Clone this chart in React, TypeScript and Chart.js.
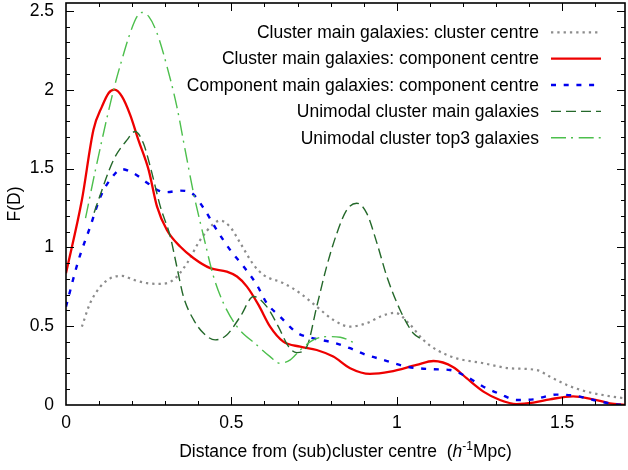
import React, { useEffect, useRef } from 'react';
import { Chart, registerables } from 'chart.js';

Chart.register(...registerables);

const FONT = '"Liberation Sans", Arial, Helvetica, sans-serif';
const FONT_SIZE = 17.5;

// Axis settings
const xMin = 0;
const xMax = 1.69;
const yMin = 0;
const yMax = 2.55;
const xTickValues = [0, 0.5, 1, 1.5];
const yTickValues = [0, 0.5, 1, 1.5, 2, 2.5];
const minorStep = 0.1;

const seriesLabels = [
  'Cluster main galaxies: cluster centre',
  'Cluster main galaxies: component centre',
  'Component main galaxies: component centre',
  'Unimodal cluster main galaxies',
  'Unimodal cluster top3 galaxies',
];

// Cluster main galaxies: cluster centre (grey dotted)
const clusterCentreX = [0.048, 0.073, 0.104, 0.134, 0.169, 0.204, 0.245, 0.285, 0.325, 0.366, 0.406, 0.446, 0.466, 0.496, 0.527, 0.567, 0.597, 0.657, 0.708, 0.758, 0.808, 0.859, 0.909, 0.955, 0.995, 1.04, 1.08, 1.121, 1.181, 1.262, 1.342, 1.423, 1.463, 1.514, 1.574, 1.634, 1.69];
const clusterCentreY = [0.497, 0.646, 0.751, 0.804, 0.819, 0.794, 0.773, 0.768, 0.794, 0.9, 1.048, 1.149, 1.17, 1.13, 1.027, 0.89, 0.825, 0.773, 0.709, 0.624, 0.54, 0.497, 0.519, 0.565, 0.585, 0.51, 0.413, 0.349, 0.296, 0.265, 0.233, 0.222, 0.18, 0.127, 0.085, 0.059, 0.042];

// Cluster main galaxies: component centre (red solid)
const clusterCompX = [0, 0.048, 0.083, 0.109, 0.129, 0.147, 0.169, 0.194, 0.219, 0.25, 0.275, 0.305, 0.345, 0.386, 0.436, 0.486, 0.517, 0.547, 0.582, 0.617, 0.657, 0.708, 0.758, 0.808, 0.859, 0.919, 0.98, 1.06, 1.111, 1.171, 1.211, 1.262, 1.312, 1.362, 1.413, 1.463, 1.533, 1.594, 1.644, 1.69];
const clusterCompY = [0.836, 1.3, 1.746, 1.894, 1.979, 2.0, 1.957, 1.84, 1.68, 1.49, 1.26, 1.11, 1.005, 0.931, 0.868, 0.846, 0.815, 0.751, 0.635, 0.497, 0.402, 0.37, 0.349, 0.307, 0.233, 0.197, 0.211, 0.254, 0.279, 0.24, 0.17, 0.085, 0.032, 0.006, 0.015, 0.036, 0.055, 0.036, 0.011, 0.0];

// Component main galaxies: component centre (blue dashed)
const compCompX = [0, 0.038, 0.073, 0.104, 0.134, 0.169, 0.204, 0.245, 0.275, 0.305, 0.345, 0.38, 0.416, 0.456, 0.496, 0.537, 0.577, 0.607, 0.647, 0.698, 0.748, 0.808, 0.859, 0.909, 0.96, 1.03, 1.111, 1.161, 1.211, 1.262, 1.312, 1.362, 1.413, 1.483, 1.544, 1.594, 1.654, 1.69];
const compCompY = [0.624, 0.92, 1.13, 1.32, 1.43, 1.496, 1.47, 1.41, 1.365, 1.35, 1.36, 1.344, 1.249, 1.11, 0.984, 0.878, 0.762, 0.646, 0.561, 0.459, 0.423, 0.396, 0.36, 0.317, 0.286, 0.243, 0.227, 0.222, 0.18, 0.116, 0.07, 0.032, 0.036, 0.066, 0.057, 0.032, 0.006, 0.0];

// Unimodal cluster main galaxies (dark green dashed)
const uniMainX = [0.085, 0.098, 0.144, 0.184, 0.209, 0.234, 0.255, 0.285, 0.315, 0.335, 0.355, 0.386, 0.416, 0.451, 0.486, 0.527, 0.567, 0.607, 0.642, 0.673, 0.698, 0.728, 0.758, 0.788, 0.819, 0.849, 0.879, 0.909, 0.94, 0.97, 1.01, 1.05, 1.08];
const uniMainY = [1.22, 1.3, 1.556, 1.68, 1.735, 1.66, 1.51, 1.26, 1.07, 0.878, 0.688, 0.54, 0.455, 0.413, 0.444, 0.561, 0.688, 0.624, 0.497, 0.37, 0.332, 0.37, 0.624, 0.878, 1.09, 1.238, 1.28, 1.217, 1.027, 0.815, 0.603, 0.455, 0.413];

// Unimodal cluster top3 galaxies (light green dash-dot)
const uniTop3X = [0.059, 0.089, 0.144, 0.169, 0.194, 0.215, 0.23, 0.25, 0.275, 0.305, 0.335, 0.36, 0.386, 0.416, 0.446, 0.476, 0.517, 0.577, 0.617, 0.647, 0.678, 0.708, 0.748, 0.788, 0.829, 0.874];
const uniTop3Y = [1.185, 1.49, 2.0, 2.19, 2.36, 2.465, 2.49, 2.465, 2.36, 2.15, 1.894, 1.62, 1.34, 1.07, 0.815, 0.646, 0.497, 0.38, 0.307, 0.265, 0.286, 0.349, 0.413, 0.434, 0.43, 0.392];

const seriesX = [clusterCentreX, clusterCompX, compCompX, uniMainX, uniTop3X];
const seriesY = [clusterCentreY, clusterCompY, compCompY, uniMainY, uniTop3Y];
const seriesColors = ['#8c8c8c', '#ee0000', '#0000ee', '#24682a', '#4cbf4c'];
const seriesWidths = [2.2, 2.3, 2.4, 1.4, 1.4];
const seriesDashes = [[2.3, 4], [], [5, 7.7], [10, 5], [15, 5, 2, 5.7]];

const framePlugin = {
  id: 'frameTicks',
  afterDatasetsDraw(chart: any) {
    const { ctx, chartArea } = chart;
    const { left, right, top, bottom } = chartArea;
    const xs = chart.scales.x;
    const ys = chart.scales.y;
    ctx.save();
    ctx.strokeStyle = '#000';
    ctx.lineWidth = 1;
    ctx.setLineDash([]);
    const line = (x1: number, y1: number, x2: number, y2: number) => {
      ctx.beginPath();
      ctx.moveTo(x1, y1);
      ctx.lineTo(x2, y2);
      ctx.stroke();
    };
    const nx = Math.floor(xs.max / minorStep + 1e-6);
    for (let i = 0; i <= nx; i++) {
      const v = i * minorStep;
      const major = i % 5 === 0;
      const len = major ? 8 : 4;
      const px = Math.round(xs.getPixelForValue(v)) + 0.5;
      if (px >= right - 1 || px <= left + 1) continue;
      line(px, bottom, px, bottom - len);
      line(px, top, px, top + len);
    }
    const ny = Math.floor(ys.max / minorStep + 1e-6);
    for (let i = 0; i <= ny; i++) {
      const v = i * minorStep;
      const major = i % 5 === 0;
      const len = major ? 8 : 4;
      const py = Math.round(ys.getPixelForValue(v)) + 0.5;
      if (py >= bottom - 1 || py <= top + 1) continue;
      line(left, py, left + len, py);
      line(right, py, right - len, py);
    }
    ctx.lineWidth = 1.6;
    ctx.strokeRect(left, top, right - left, bottom - top);
    ctx.restore();
  },
};

const legendPlugin = {
  id: 'insideLegend',
  afterDraw(chart: any) {
    const { ctx, chartArea } = chart;
    const textRight = chartArea.right - 86;
    const sampleL = chartArea.right - 74;
    const sampleR = chartArea.right - 24;
    const row0 = chartArea.top + 29.3;
    const rowH = 26.35;
    ctx.save();
    ctx.font = `${FONT_SIZE}px ${FONT}`;
    ctx.textAlign = 'right';
    ctx.textBaseline = 'middle';
    chart.data.datasets.forEach((ds: any, i: number) => {
      const y = row0 + i * rowH;
      ctx.fillStyle = '#000';
      ctx.fillText(ds.label, textRight, y + 1);
      ctx.strokeStyle = ds.borderColor;
      ctx.lineWidth = ds.borderWidth;
      ctx.lineCap = 'butt';
      ctx.setLineDash(ds.borderDash || []);
      ctx.beginPath();
      ctx.moveTo(sampleL, y);
      ctx.lineTo(sampleR, y);
      ctx.stroke();
    });
    ctx.restore();
  },
};

const xTitlePlugin = {
  id: 'xTitle',
  afterDraw(chart: any) {
    const { ctx, chartArea } = chart;
    const xs = chart.scales.x;
    const baseline = xs.bottom - 13;
    const cx = (chartArea.left + chartArea.right) / 2;
    const parts = [
      { t: 'Distance from (sub)cluster centre  (', f: `${FONT_SIZE}px ${FONT}`, dy: 0 },
      { t: 'h', f: `italic ${FONT_SIZE}px ${FONT}`, dy: 0 },
      { t: '-1', f: `12px ${FONT}`, dy: -7 },
      { t: 'Mpc)', f: `${FONT_SIZE}px ${FONT}`, dy: 0 },
    ];
    ctx.save();
    ctx.fillStyle = '#000';
    ctx.textAlign = 'left';
    ctx.textBaseline = 'alphabetic';
    let total = 0;
    const widths = parts.map((p) => {
      ctx.font = p.f;
      const w = ctx.measureText(p.t).width;
      total += w;
      return w;
    });
    let x = cx - total / 2;
    parts.forEach((p, i) => {
      ctx.font = p.f;
      ctx.fillText(p.t, x, baseline + p.dy);
      x += widths[i];
    });
    ctx.restore();
  },
};

export default function App() {
  const canvasRef = useRef<HTMLCanvasElement | null>(null);

  useEffect(() => {
    document.body.style.margin = '0';
    const canvas = canvasRef.current;
    if (!canvas) return;
    Chart.defaults.font.family = FONT;
    Chart.defaults.color = '#000';

    const datasets = seriesLabels.map((label, i) => ({
      label,
      data: seriesX[i].map((x, j) => ({ x, y: seriesY[i][j] })),
      borderColor: seriesColors[i],
      backgroundColor: seriesColors[i],
      borderWidth: seriesWidths[i],
      borderDash: seriesDashes[i],
      borderCapStyle: 'butt' as const,
      pointRadius: 0,
      pointHoverRadius: 0,
      fill: false,
      cubicInterpolationMode: 'monotone' as const,
      order: seriesLabels.length - i,
    }));

    const chart = new Chart(canvas, {
      type: 'line',
      data: { datasets },
      options: {
        animation: false,
        responsive: false,
        maintainAspectRatio: false,
        devicePixelRatio: 1,
        layout: { padding: { top: 3, right: 3, left: 0, bottom: 0 } },
        plugins: {
          legend: { display: false },
          tooltip: { enabled: false },
        },
        scales: {
          x: {
            type: 'linear',
            min: xMin,
            max: xMax,
            grid: { display: false, drawTicks: false },
            border: { display: false },
            ticks: {
              padding: 8,
              font: { size: FONT_SIZE, family: FONT },
              color: '#000',
              maxRotation: 0,
              autoSkip: false,
              callback: (v: any) => String(Number(v)),
            },
            afterBuildTicks: (scale: any) => {
              scale.ticks = xTickValues.map((v) => ({ value: v }));
            },
            afterFit: (scale: any) => {
              scale.height = 65;
              scale.paddingLeft = 0;
              scale.paddingRight = 0;
            },
          },
          y: {
            type: 'linear',
            min: yMin,
            max: yMax,
            grid: { display: false, drawTicks: false },
            border: { display: false },
            ticks: {
              padding: 12,
              font: { size: FONT_SIZE, family: FONT },
              color: '#000',
              autoSkip: false,
              callback: (v: any) => String(Number(v)),
            },
            title: {
              display: true,
              text: 'F(D)',
              color: '#000',
              font: { size: FONT_SIZE, family: FONT },
              padding: { top: 4.5, bottom: 0 },
            },
            afterBuildTicks: (scale: any) => {
              scale.ticks = yTickValues.map((v) => ({ value: v }));
            },
            afterFit: (scale: any) => {
              scale.width = 66;
              scale.paddingTop = 0;
              scale.paddingBottom = 0;
            },
          },
        },
      },
      plugins: [framePlugin, legendPlugin, xTitlePlugin],
    });

    return () => {
      chart.destroy();
    };
  }, []);

  return (
    <div style={{ position: 'relative', width: 628, height: 470, background: '#fff' }}>
      <canvas ref={canvasRef} width={628} height={470} style={{ display: 'block', width: 628, height: 470 }} />
    </div>
  );
}
